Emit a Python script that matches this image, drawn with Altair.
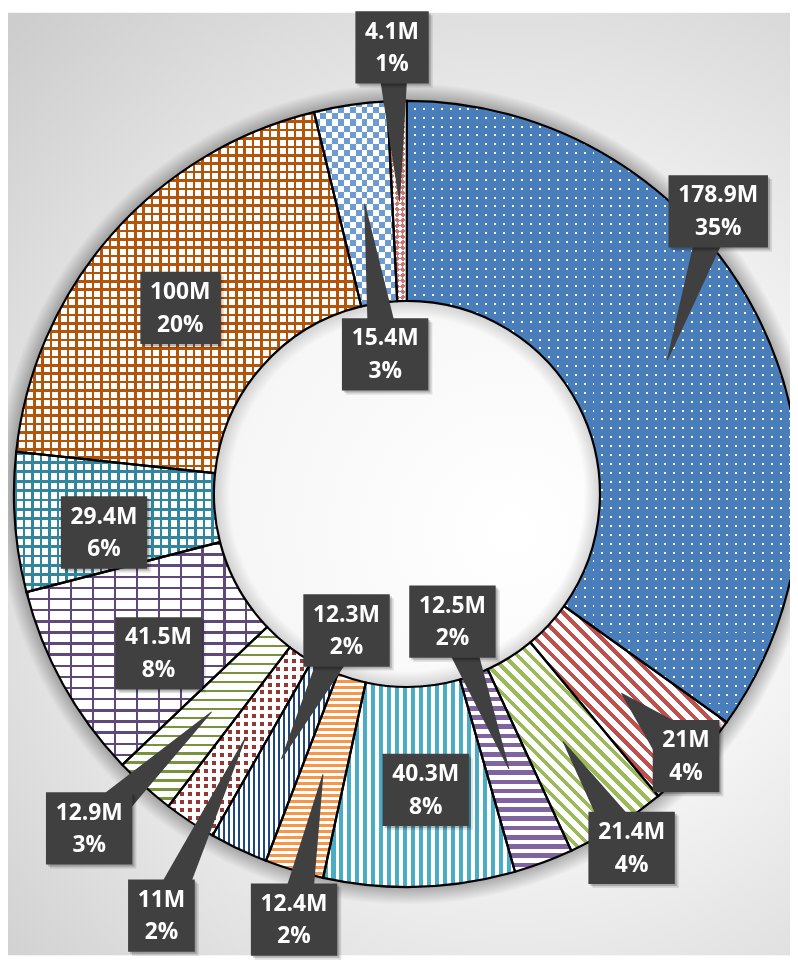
import math
import altair as alt
import pandas as pd

# ---------------- data ----------------
values = [178.9, 21.0, 21.4, 12.5, 40.3, 12.4, 12.3, 11.0, 12.9, 41.5, 29.4, 100.0, 15.4, 4.1]
value_labels = ["178.9M", "21M", "21.4M", "12.5M", "40.3M", "12.4M", "12.3M",
                "11M", "12.9M", "41.5M", "29.4M", "100M", "15.4M", "4.1M"]
pct_labels = ["35%", "4%", "4%", "2%", "8%", "2%", "2%", "2%", "3%", "8%", "6%", "20%", "3%", "1%"]

# ---------------- layout / style ----------------
W, H = 790, 952
OFF = 8
CX, CY = 411 - OFF, 494 - OFF
R_OUT, R_IN = 397, 195
R_MID = (R_OUT + R_IN) / 2

# label box centres (page coordinates), and which labels have a callout pointer
box_cx = [725.5, 693, 638, 457, 430, 297, 350, 163, 90, 160, 105, 182, 389, 396]
box_cy = [208.5, 759, 851.5, 623, 793, 924, 632, 920, 832, 655, 533, 306, 353, 43]
has_pointer = [1, 1, 1, 1, 0, 1, 1, 1, 1, 0, 0, 0, 1, 1]

BOX_H = 73
BOX_COLOR = "#404040"
FONT = "Open Sans"
FONT_SIZE = 23
T = "rgba(0,0,0,0)"

N = len(values)
total = sum(values)

starts, ends = [], []
acc = 0.0
for v in values:
    starts.append(acc / total * 2 * math.pi)
    acc += v
    ends.append(acc / total * 2 * math.pi)


def sector_bbox(t0, t1, r0, r1):
    pts = []
    for t in (t0, t1):
        for r in (r0, r1):
            pts.append((r * math.sin(t), -r * math.cos(t)))
    for k in range(5):
        a = k * math.pi / 2
        if t0 < a < t1:
            pts.append((r1 * math.sin(a), -r1 * math.cos(a)))
    xs_ = [p[0] for p in pts]
    ys_ = [p[1] for p in pts]
    return max(xs_) - min(xs_), max(ys_) - min(ys_)


bboxes = [sector_bbox(starts[i], ends[i], R_IN, R_OUT) for i in range(N)]


def stripes(i, direction, on, off, period, duty):
    bw, bh = bboxes[i]
    if direction == "h":
        n = bh / period
        coords = dict(x1=0, y1=0, x2=0, y2=1)
    elif direction == "v":
        n = bw / period
        coords = dict(x1=0, y1=0, x2=1, y2=0)
    else:
        # 45-degree stripes in pixel space, expressed in bounding-box units
        a = (bw + bh) / (2 * (bw ** 2 + bh ** 2))
        n = (bw + bh) / math.sqrt(2) / period
        if direction == "d":      # "\" lines
            coords = dict(x1=0.5 - a * bw, y1=0.5 + a * bh, x2=0.5 + a * bw, y2=0.5 - a * bh)
        else:                     # "/" lines
            coords = dict(x1=0.5 - a * bw, y1=0.5 - a * bh, x2=0.5 + a * bw, y2=0.5 + a * bh)
    n = max(1, int(round(n)))
    stops = []
    for k in range(n):
        a0 = round(k / n, 5)
        b0 = round((k + duty) / n, 5)
        c0 = round((k + 1) / n, 5)
        stops += [dict(offset=a0, color=on), dict(offset=b0, color=on),
                  dict(offset=b0, color=off), dict(offset=c0, color=off)]
    return dict(gradient="linear", stops=stops, **coords)


def complement(hexc):
    h = hexc.lstrip("#")
    r, g, b = (int(h[k:k + 2], 16) for k in (0, 2, 4))
    return "#%02x%02x%02x" % (255 - r, 255 - g, 255 - b)


BLUE = "#4A7EBB"
RED = "#C0504D"
GREEN = "#9BBB59"
PURPLE = "#8064A2"
AQUA = "#4BACC6"
ORANGE = "#F79646"
DBLUE = "#1F497D"
DRED = "#953735"
OLIVE = "#77933C"
DPURPLE = "#5F497A"
TEAL = "#31859C"
BROWN = "#B25409"
CHECK = "#6F9BD3"
DIAM = "#D4726F"
K_CHECK = complement(CHECK)
K_DIAM = complement(DIAM)

layer0 = ["white", "white", "white", "white", "white", "white", "white", DRED,
          "white", "white", "white", "white", "black", "black"]
layer1 = [
    stripes(0, "h", BLUE, T, 9, 0.78),
    stripes(1, "d", RED, T, 9.5, 0.42),
    stripes(2, "d", GREEN, T, 9.5, 0.40),
    stripes(3, "h", PURPLE, T, 9.5, 0.5),
    stripes(4, "v", AQUA, T, 8, 0.55),
    stripes(5, "h", ORANGE, T, 6, 0.55),
    stripes(6, "v", DBLUE, T, 5, 0.45),
    stripes(7, "h", "white", T, 8, 0.5),
    stripes(8, "h", OLIVE, T, 9, 0.25),
    stripes(9, "h", DPURPLE, T, 11, 0.22),
    stripes(10, "h", TEAL, T, 9.5, 0.3),
    stripes(11, "h", BROWN, T, 8.5, 0.3),
    stripes(12, "h", K_CHECK, T, 12, 0.5),
    stripes(13, "d", K_DIAM, T, 8, 0.5),
]
layer2 = [
    stripes(0, "v", BLUE, T, 9, 0.78),
    None, None, None, None, None, None,
    stripes(7, "v", "white", T, 8, 0.5),
    None,
    stripes(9, "v", DPURPLE, T, 22, 0.1),
    stripes(10, "v", TEAL, T, 8.5, 0.3),
    stripes(11, "v", BROWN, T, 8.5, 0.3),
    None, None,
]
# XOR layers (difference blending) for checkerboard / diamond patterns
layer3 = [None] * 12 + [stripes(12, "v", K_CHECK, T, 12, 0.5), stripes(13, "a", K_DIAM, T, 8, 0.5)]
layer4 = [None] * 12 + ["white", "white"]

df = pd.DataFrame({"idx": list(range(N)), "value": values,
                   "label": value_labels, "pct": pct_labels})

arc_base = alt.Chart(df).encode(
    theta=alt.Theta("value:Q", stack=True),
    order=alt.Order("idx:Q", sort="ascending"),
    detail=alt.Detail("idx:N"),
)


def arc_layer(fills, **kw):
    conds = [{"test": f"datum.idx == {i}", "value": f} for i, f in enumerate(fills) if f is not None]
    return arc_base.mark_arc(radius=R_OUT, radius2=R_IN, x=CX, y=CY, **kw).encode(
        fill=alt.FillValue(value=T, condition=conds)
    )


arcs0 = arc_layer(layer0)
arcs1 = arc_layer(layer1)
arcs2 = arc_layer(layer2)
arcs3 = arc_layer(layer3, blend="difference")
arcs4 = arc_layer(layer4, blend="difference")
outline = arc_base.mark_arc(radius=R_OUT, radius2=R_IN, x=CX, y=CY,
                            fillOpacity=0, stroke="black", strokeWidth=2.2)

one = pd.DataFrame({"a": [0]})

bg = alt.Chart(one).mark_rect().encode(
    x=alt.value(0), x2=alt.value(W), y=alt.value(0), y2=alt.value(H),
    fill=alt.value(dict(gradient="radial", x1=0.62, y1=0.55, r1=0, x2=0.62, y2=0.55, r2=0.75,
                        stops=[dict(offset=0, color="#ffffff"), dict(offset=0.4, color="#f6f6f6"),
                               dict(offset=1, color="#cdcdcd")])),
)

G_OUT = 18
glow_out = alt.Chart(one).mark_arc(theta=0, theta2=2 * math.pi, radius=R_OUT + G_OUT,
                                   radius2=R_OUT, x=CX, y=CY).encode(
    fill=alt.value(dict(gradient="radial", x1=0.5, y1=0.5, r1=0, x2=0.5, y2=0.5, r2=0.5,
                        stops=[dict(offset=R_OUT / (R_OUT + G_OUT), color="rgba(0,0,0,0.3)"),
                               dict(offset=1, color="rgba(0,0,0,0)")]))
)
G_IN = 16
glow_in = alt.Chart(one).mark_arc(theta=0, theta2=2 * math.pi, radius=R_IN,
                                  radius2=R_IN - G_IN, x=CX, y=CY).encode(
    fill=alt.value(dict(gradient="radial", x1=0.5, y1=0.5, r1=0, x2=0.5, y2=0.5, r2=0.5,
                        stops=[dict(offset=(R_IN - G_IN) / R_IN, color="rgba(0,0,0,0)"),
                               dict(offset=1, color="rgba(0,0,0,0.16)")]))
)

digit_w, dot_w, m_w = 13.2, 6.7, 21.0


def text_w(s):
    w = 0
    for ch in s:
        w += m_w if ch == "M" else dot_w if ch == "." else digit_w
    return w


rows = []
trail_rows = []
for i in range(N):
    bx, by = box_cx[i] - OFF, box_cy[i] - OFF
    bw = text_w(value_labels[i]) + 20
    rows.append(dict(label=value_labels[i], pct=pct_labels[i], x=bx, y=by,
                     x0=bx - bw / 2, x1=bx + bw / 2, y0=by - BOX_H / 2, y1=by + BOX_H / 2))
    if has_pointer[i]:
        mid = (starts[i] + ends[i]) / 2
        tx = CX + R_MID * math.sin(mid)
        ty = CY - R_MID * math.cos(mid)
        dx, dy = tx - bx, ty - by
        f = min(bw / 2 / abs(dx) if dx else 9, BOX_H / 2 / abs(dy) if dy else 9)
        f = min(f, 0.9)
        base = 26 / (1 - f)
        trail_rows.append(dict(id=i, step=0, x=bx, y=by, s=base))
        trail_rows.append(dict(id=i, step=1, x=tx, y=ty, s=0))

lab = pd.DataFrame(rows)
for k in (2, 4):
    lab[f"sx0_{k}"] = lab.x0 + k
    lab[f"sx1_{k}"] = lab.x1 + k
    lab[f"sy0_{k}"] = lab.y0 + k
    lab[f"sy1_{k}"] = lab.y1 + k
trail_df = pd.DataFrame(trail_rows)

xs = alt.Scale(domain=[0, W], range=[0, W])
ys = alt.Scale(domain=[0, H], range=[0, H])

trail = alt.Chart(trail_df).mark_trail(color=BOX_COLOR).encode(
    x=alt.X("x:Q", scale=xs, axis=None),
    y=alt.Y("y:Q", scale=ys, axis=None),
    size=alt.Size("s:Q", scale=None, legend=None),
    detail="id:N",
    order="step:Q",
)

shadows = []
for k, op in ((4, 0.12), (2, 0.2)):
    shadows.append(alt.Chart(lab).mark_rect(color="black", opacity=op).encode(
        x=alt.X(f"sx0_{k}:Q", scale=xs, axis=None), x2=f"sx1_{k}:Q",
        y=alt.Y(f"sy0_{k}:Q", scale=ys, axis=None), y2=f"sy1_{k}:Q"))

boxes = alt.Chart(lab).mark_rect(color=BOX_COLOR).encode(
    x=alt.X("x0:Q", scale=xs, axis=None), x2="x1:Q",
    y=alt.Y("y0:Q", scale=ys, axis=None), y2="y1:Q",
)

txt1 = alt.Chart(lab).mark_text(font=FONT, fontWeight="bold", fontSize=FONT_SIZE, color="white",
                                baseline="middle", align="center", dy=-16).encode(
    x=alt.X("x:Q", scale=xs, axis=None), y=alt.Y("y:Q", scale=ys, axis=None), text="label:N")
txt2 = alt.Chart(lab).mark_text(font=FONT, fontWeight="bold", fontSize=FONT_SIZE, color="white",
                                baseline="middle", align="center", dy=17).encode(
    x=alt.X("x:Q", scale=xs, axis=None), y=alt.Y("y:Q", scale=ys, axis=None), text="pct:N")

chart = alt.layer(
    bg, glow_out, glow_in, arcs0, arcs1, arcs2, arcs3, arcs4, outline, trail, *shadows, boxes, txt1, txt2
).properties(
    width=W, height=H, padding=0, autosize=alt.AutoSizeParams(type="none")
).configure_view(strokeWidth=0)

chart.save("out.html", embed_options={"renderer": "svg", "actions": False})
